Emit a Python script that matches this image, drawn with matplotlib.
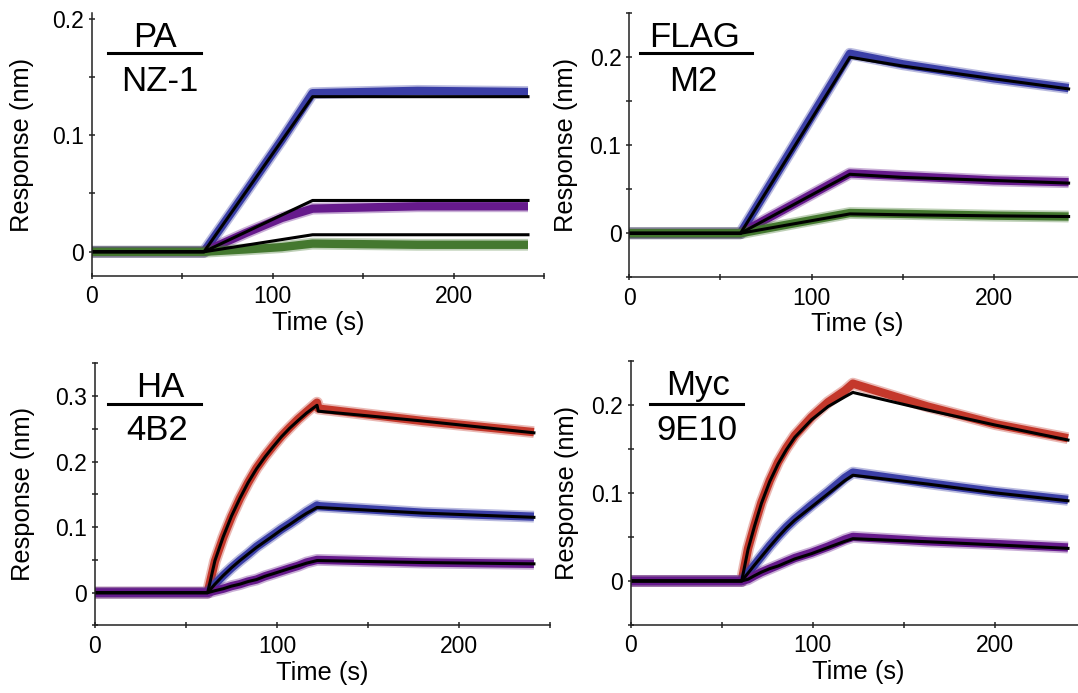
import matplotlib
matplotlib.use('Agg')
import matplotlib.pyplot as plt

plt.rcParams['font.family'] = ['Liberation Sans', 'DejaVu Sans']

BLUE = '#3a3ea6'
PURPLE = '#661a8c'
GREEN = '#44782f'
RED = '#c4382b'

# PA tag / NZ-1 antibody
pa_t = [0, 62, 122, 241]
pa_fit_blue = [0, 0, 0.133, 0.133]
pa_fit_purple = [0, 0, 0.044, 0.044]
pa_fit_green = [0, 0, 0.0146, 0.0146]
pa_data_t = [0, 62, 85, 105, 122, 180, 241]
pa_data_blue = [0, 0, 0.051, 0.096, 0.136, 0.138, 0.137]
pa_data_purple = [0, 0, 0.016, 0.029, 0.037, 0.039, 0.039]
pa_data_green = [0, 0, 0.002, 0.004, 0.007, 0.006, 0.006]

# FLAG tag / M2 antibody
flag_t = [0, 61, 121, 150, 200, 241]
flag_fit_blue = [0, 0, 0.200, 0.190, 0.1755, 0.164]
flag_fit_purple = [0, 0, 0.067, 0.0635, 0.060, 0.057]
flag_fit_green = [0, 0, 0.022, 0.021, 0.0198, 0.019]
flag_data_blue = [0, 0, 0.204, 0.192, 0.176, 0.165]
flag_data_purple = [0, 0, 0.068, 0.065, 0.060, 0.058]
flag_data_green = [0, 0, 0.023, 0.022, 0.020, 0.019]

# HA tag / 4B2 antibody
ha_t = [0, 62, 66, 70.5, 75.1, 79.7, 84.2, 88.8, 93.4, 98, 102.5, 107, 111.7, 116.2, 122,
        122.7, 180, 241]
ha_fit_red = [0, 0, 0.049, 0.085, 0.117, 0.144, 0.168, 0.189, 0.207, 0.223, 0.238, 0.251,
              0.263, 0.274, 0.286, 0.277, 0.262, 0.244]
ha_fit_blue = [0, 0, 0.013, 0.026, 0.038, 0.049, 0.059, 0.069, 0.078, 0.087, 0.096, 0.104,
               0.113, 0.121, 0.130, 0.130, 0.1215, 0.115]
ha_fit_purple = [0, 0, 0.003, 0.006, 0.010, 0.013, 0.017, 0.020, 0.025, 0.029, 0.033, 0.037,
                 0.041, 0.045, 0.049, 0.049, 0.046, 0.044]
ha_data_red = [0, 0, 0.048, 0.084, 0.116, 0.144, 0.168, 0.190, 0.208, 0.224, 0.239, 0.252,
               0.265, 0.276, 0.290, 0.281, 0.262, 0.245]
ha_data_blue = [0, 0, 0.013, 0.026, 0.038, 0.049, 0.059, 0.070, 0.079, 0.088, 0.097, 0.105,
                0.114, 0.123, 0.133, 0.132, 0.122, 0.116]
ha_data_purple = [0, 0, 0.003, 0.006, 0.010, 0.013, 0.017, 0.020, 0.025, 0.029, 0.033, 0.037,
                  0.041, 0.046, 0.050, 0.050, 0.046, 0.044]

# Myc tag / 9E10 antibody
myc_t = [0, 61, 64.5, 68, 71.8, 76.4, 81, 85.5, 90.1, 99.3, 108.4, 117.6, 122, 163, 200, 240]
myc_fit_red = [0, 0, 0.036, 0.062, 0.088, 0.113, 0.133, 0.149, 0.163, 0.183, 0.198, 0.209,
               0.214, 0.194, 0.177, 0.160]
myc_fit_blue = [0, 0, 0.009, 0.018, 0.0275, 0.039, 0.050, 0.060, 0.069, 0.084, 0.099, 0.114,
                0.120, 0.110, 0.100, 0.091]
myc_fit_purple = [0, 0, 0.002, 0.006, 0.010, 0.014, 0.017, 0.021, 0.025, 0.031, 0.038, 0.045,
                  0.048, 0.0445, 0.041, 0.037]
myc_data_red = [0, 0, 0.037, 0.063, 0.089, 0.114, 0.135, 0.151, 0.165, 0.186, 0.203, 0.216,
                0.224, 0.198, 0.178, 0.162]
myc_data_blue = [0, 0, 0.009, 0.018, 0.028, 0.040, 0.051, 0.061, 0.070, 0.086, 0.101, 0.117,
                 0.123, 0.111, 0.101, 0.092]
myc_data_purple = [0, 0, 0.002, 0.006, 0.010, 0.014, 0.018, 0.022, 0.026, 0.032, 0.039, 0.047,
                   0.050, 0.045, 0.042, 0.038]

x_ticks = [0, 50, 100, 150, 200, 250]
x_labels = ['0', '', '100', '', '200', '']


def style(ax, ylim, yticks, ylabels, label_x):
    ax.set_xlim(0, 250)
    ax.set_ylim(*ylim)
    ax.set_xticks(x_ticks)
    ax.set_xticklabels(x_labels)
    ax.set_yticks(yticks)
    ax.set_yticklabels(ylabels)
    for s in ['top', 'right']:
        ax.spines[s].set_visible(False)
    for s in ['left', 'bottom']:
        ax.spines[s].set_linewidth(1.1)
        ax.spines[s].set_color('#222222')
    ax.tick_params(direction='inout', length=4.5, width=1.1, color='#222222', labelsize=16.5)
    ax.tick_params(axis='x', pad=4.5)
    ax.tick_params(axis='y', pad=3.4)
    ax.set_xlabel('Time (s)', fontsize=18.4, labelpad=2)
    ax.set_ylabel('Response (nm)', fontsize=18.4)
    ax.yaxis.set_label_coords(label_x, 0.5)


def tag(ax, top, bottom, xc_top, xc_bot, y_top, y_bot, y_line, x0, x1):
    ax.text(xc_top, y_top, top, transform=ax.transAxes, ha='center', va='baseline', fontsize=25)
    ax.text(xc_bot, y_bot, bottom, transform=ax.transAxes, ha='center', va='baseline', fontsize=25)
    ax.plot([x0, x1], [y_line, y_line], transform=ax.transAxes, color='k', lw=2.2, clip_on=False)


def traces(ax, t_data, data, t_fit, fits):
    # noisy raw traces: a faint fringe under a solid core
    for y, c in data:
        ax.plot(t_data, y, color=c, lw=8.5, alpha=0.35, solid_capstyle='butt')
        ax.plot(t_data, y, color=c, lw=6, solid_capstyle='butt')
    for y in fits:
        ax.plot(t_fit, y, color='k', lw=2.2)


fig = plt.figure(figsize=(10.78, 6.93), dpi=100)
ax1 = fig.add_axes([0.0851, 0.6022, 0.4198, 0.3786])
ax2 = fig.add_axes([0.5838, 0.5999, 0.4227, 0.3810])
ax3 = fig.add_axes([0.0878, 0.0975, 0.4227, 0.3782])
ax4 = fig.add_axes([0.5849, 0.0981, 0.4227, 0.3814])

traces(ax1, pa_data_t, [(pa_data_blue, BLUE), (pa_data_purple, PURPLE), (pa_data_green, GREEN)],
       pa_t, [pa_fit_blue, pa_fit_purple, pa_fit_green])
style(ax1, (-0.0205, 0.2045), [0, 0.05, 0.1, 0.15, 0.2], ['0', '', '0.1', '', '0.2'], -0.128)
tag(ax1, 'PA', 'NZ-1', 0.139, 0.151, 0.873, 0.705, 0.847, 0.036, 0.2415)

traces(ax2, flag_t, [(flag_data_blue, BLUE), (flag_data_purple, PURPLE), (flag_data_green, GREEN)],
       flag_t, [flag_fit_blue, flag_fit_purple, flag_fit_green])
style(ax2, (-0.05, 0.25), [-0.05, 0, 0.05, 0.1, 0.15, 0.2, 0.25],
      ['', '0', '', '0.1', '', '0.2', ''], -0.112)
tag(ax2, 'FLAG', 'M2', 0.143, 0.141, 0.873, 0.707, 0.851, 0.024, 0.269)

traces(ax3, ha_t, [(ha_data_red, RED), (ha_data_blue, BLUE), (ha_data_purple, PURPLE)],
       ha_t, [ha_fit_red, ha_fit_blue, ha_fit_purple])
style(ax3, (-0.05, 0.35), [-0.05, 0, 0.05, 0.1, 0.15, 0.2, 0.25, 0.3, 0.35],
      ['', '0', '', '0.1', '', '0.2', '', '0.3', ''], -0.131)
tag(ax3, 'HA', '4B2', 0.145, 0.137, 0.8726, 0.7075, 0.845, 0.029, 0.234)

traces(ax4, myc_t, [(myc_data_red, RED), (myc_data_blue, BLUE), (myc_data_purple, PURPLE)],
       myc_t, [myc_fit_red, myc_fit_blue, myc_fit_purple])
style(ax4, (-0.05, 0.25), [-0.05, 0, 0.05, 0.1, 0.15, 0.2, 0.25],
      ['', '0', '', '0.1', '', '0.2', ''], -0.112)
tag(ax4, 'Myc', '9E10', 0.147, 0.145, 0.870, 0.700, 0.836, 0.043, 0.246)

fig.savefig('out.png', dpi=100)
